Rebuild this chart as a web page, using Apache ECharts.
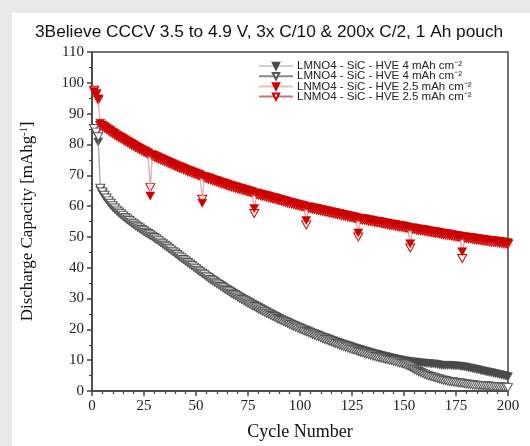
<!DOCTYPE html>
<html>
<head>
<meta charset="utf-8">
<script src="https://cdn.jsdelivr.net/npm/echarts@6/dist/echarts.min.js"></script>
<style>
  html, body { margin: 0; padding: 0; background: #e9e9e9; }
  #main { width: 530px; height: 446px; }
</style>
</head>
<body>
<div id="main"></div>
<script>
// cycle numbers 1..200
var cycles = [];
for (var c = 1; c <= 200; c++) cycles.push(c);

var xTicks = [0, 25, 50, 75, 100, 125, 150, 175, 200];
var yTicks = [0, 10, 20, 30, 40, 50, 60, 70, 80, 90, 100, 110];

// trailing spaces keep the legend entries apart, text stays the same
var seriesNames = [
  'LMNO4 - SiC - HVE 4 mAh cm⁻²',
  'LMNO4 - SiC - HVE 4 mAh cm⁻² ',
  'LNMO4 - SiC - HVE 2.5 mAh cm⁻²',
  'LNMO4 - SiC - HVE 2.5 mAh cm⁻² '
];

// LMNO4 4 mAh, filled
var gray4Filled = [
  85.0, 83.5, 80.8, 65.2, 64.0, 62.9, 62.0, 61.1, 60.3, 59.5,
  58.8, 58.2, 57.6, 57.0, 56.5, 55.9, 55.4, 54.9, 54.4, 53.9,
  53.4, 53.0, 52.5, 52.1, 51.6, 51.2, 50.8, 50.4, 50.0, 49.5,
  49.0, 48.6, 48.1, 47.6, 47.1, 46.6, 46.1, 45.6, 45.1, 44.6,
  44.1, 43.6, 43.1, 42.6, 42.1, 41.6, 41.1, 40.6, 40.1, 39.6,
  39.1, 38.6, 38.2, 37.7, 37.3, 36.8, 36.4, 35.9, 35.5, 35.0,
  34.6, 34.2, 33.8, 33.3, 32.9, 32.5, 32.1, 31.7, 31.3, 30.9,
  30.5, 30.1, 29.7, 29.4, 29.0, 28.6, 28.2, 27.9, 27.5, 27.2,
  26.8, 26.4, 26.0, 25.7, 25.3, 25.0, 24.6, 24.3, 23.9, 23.6,
  23.2, 22.9, 22.6, 22.3, 22.0, 21.7, 21.4, 21.1, 20.8, 20.5,
  20.2, 19.9, 19.7, 19.4, 19.1, 18.8, 18.6, 18.3, 18.0, 17.8,
  17.5, 17.3, 17.0, 16.8, 16.5, 16.3, 16.0, 15.8, 15.6, 15.3,
  15.1, 14.9, 14.7, 14.5, 14.2, 14.0, 13.8, 13.6, 13.4, 13.2,
  13.0, 12.8, 12.6, 12.4, 12.2, 12.0, 11.9, 11.7, 11.5, 11.3,
  11.2, 11.0, 10.8, 10.7, 10.5, 10.4, 10.2, 10.1, 9.9, 9.8,
  9.7, 9.6, 9.5, 9.4, 9.4, 9.3, 9.2, 9.1, 9.1, 9.0,
  8.9, 8.9, 8.8, 8.8, 8.7, 8.6, 8.4, 8.3, 8.3, 8.3,
  8.3, 8.3, 8.2, 8.2, 8.1, 8.1, 8.0, 7.9, 7.8, 7.7,
  7.5, 7.4, 7.2, 7.1, 6.9, 6.8, 6.6, 6.5, 6.3, 6.2,
  6.0, 5.9, 5.7, 5.6, 5.4, 5.3, 5.1, 5.0, 4.8, 4.6
];

// LMNO4 4 mAh, open
var gray4Open = [
  85.2, 84.0, 82.5, 65.8, 64.6, 63.5, 62.6, 61.7, 60.9, 60.1,
  59.4, 58.7, 58.1, 57.5, 56.9, 56.3, 55.8, 55.3, 54.8, 54.3,
  53.8, 53.3, 52.9, 52.4, 52.0, 51.5, 51.1, 50.7, 50.2, 49.8,
  49.3, 48.8, 48.3, 47.8, 47.3, 46.8, 46.3, 45.8, 45.3, 44.8,
  44.3, 43.7, 43.2, 42.7, 42.2, 41.7, 41.2, 40.7, 40.2, 39.7,
  39.2, 38.7, 38.2, 37.7, 37.2, 36.7, 36.2, 35.8, 35.3, 34.8,
  34.4, 33.9, 33.5, 33.0, 32.6, 32.2, 31.7, 31.3, 30.9, 30.5,
  30.1, 29.7, 29.3, 28.9, 28.5, 28.1, 27.7, 27.4, 27.0, 26.6,
  26.3, 25.9, 25.6, 25.2, 24.9, 24.5, 24.2, 23.9, 23.5, 23.2,
  22.9, 22.6, 22.3, 22.0, 21.6, 21.3, 21.0, 20.7, 20.4, 20.1,
  19.8, 19.5, 19.3, 19.0, 18.7, 18.4, 18.1, 17.8, 17.6, 17.3,
  17.0, 16.7, 16.5, 16.2, 16.0, 15.7, 15.4, 15.2, 14.9, 14.7,
  14.4, 14.2, 14.0, 13.7, 13.5, 13.3, 13.1, 12.8, 12.6, 12.4,
  12.2, 12.0, 11.8, 11.6, 11.4, 11.2, 11.0, 10.8, 10.7, 10.5,
  10.3, 10.2, 10.0, 9.9, 9.7, 9.5, 9.3, 9.1, 8.9, 8.7,
  8.4, 8.1, 7.8, 7.4, 7.0, 6.6, 6.3, 6.0, 5.7, 5.4,
  5.1, 4.9, 4.7, 4.5, 4.3, 4.1, 3.9, 3.7, 3.5, 3.4,
  3.2, 3.1, 3.0, 2.9, 2.8, 2.7, 2.6, 2.5, 2.4, 2.3,
  2.2, 2.1, 2.0, 1.9, 1.9, 1.8, 1.8, 1.7, 1.7, 1.6,
  1.6, 1.5, 1.5, 1.4, 1.4, 1.3, 1.3, 1.2, 1.2, 1.1
];

// LNMO4 2.5 mAh, filled (sits on the upper edge of the red band)
var red25Filled = [
  97.2, 96.2, 94.8, 86.9, 86.3, 85.8, 85.4, 84.9, 84.5, 84.0,
  83.6, 83.1, 82.7, 82.3, 81.9, 81.5, 81.1, 80.7, 80.3, 79.9,
  79.5, 79.1, 78.8, 78.4, 78.0, 77.7, 77.3, 63.3, 76.7, 76.4,
  76.1, 75.8, 75.5, 75.2, 74.9, 74.6, 74.3, 74.0, 73.7, 73.4,
  73.1, 72.8, 72.6, 72.3, 72.0, 71.7, 71.5, 71.2, 70.9, 70.7,
  70.4, 70.2, 60.9, 69.7, 69.4, 69.2, 69.0, 68.7, 68.5, 68.3,
  68.0, 67.8, 67.6, 67.4, 67.1, 66.9, 66.7, 66.5, 66.3, 66.1,
  65.9, 65.7, 65.5, 65.3, 65.1, 64.9, 64.7, 59.2, 64.3, 64.1,
  63.9, 63.7, 63.6, 63.4, 63.2, 63.0, 62.8, 62.7, 62.5, 62.3,
  62.1, 61.9, 61.7, 61.5, 61.3, 61.2, 61.0, 60.8, 60.6, 60.4,
  60.3, 60.1, 55.3, 59.8, 59.7, 59.5, 59.4, 59.2, 59.1, 58.9,
  58.8, 58.6, 58.5, 58.3, 58.2, 58.0, 57.9, 57.7, 57.6, 57.4,
  57.3, 57.1, 57.0, 56.8, 56.7, 56.5, 56.4, 51.3, 56.1, 56.0,
  55.9, 55.8, 55.6, 55.5, 55.4, 55.2, 55.1, 55.0, 54.9, 54.7,
  54.6, 54.5, 54.3, 54.2, 54.1, 54.0, 53.8, 53.7, 53.6, 53.5,
  53.3, 53.2, 47.8, 53.0, 52.9, 52.7, 52.6, 52.5, 52.4, 52.3,
  52.2, 52.0, 51.9, 51.8, 51.7, 51.6, 51.5, 51.3, 51.2, 51.1,
  51.0, 50.9, 50.8, 50.6, 50.5, 50.4, 50.3, 45.2, 50.1, 50.0,
  49.9, 49.8, 49.7, 49.6, 49.5, 49.4, 49.3, 49.2, 49.1, 49.0,
  48.9, 48.8, 48.8, 48.7, 48.6, 48.5, 48.4, 48.3, 48.2, 48.1
];

// LNMO4 2.5 mAh, open (lower edge of the red band)
var red25Open = [
  97.6, 96.5, 94.4, 86.2, 85.7, 85.3, 84.8, 84.4, 83.9, 83.5,
  83.0, 82.6, 82.2, 81.8, 81.4, 81.0, 80.6, 80.2, 79.8, 79.4,
  79.0, 78.6, 78.3, 77.9, 77.5, 77.2, 76.8, 66.0, 76.2, 75.9,
  75.6, 75.3, 75.0, 74.7, 74.4, 74.1, 73.8, 73.5, 73.2, 72.9,
  72.6, 72.3, 72.1, 71.8, 71.5, 71.2, 71.0, 70.7, 70.4, 70.2,
  69.9, 69.7, 62.2, 69.2, 68.9, 68.7, 68.5, 68.2, 68.0, 67.8,
  67.5, 67.3, 67.1, 66.9, 66.6, 66.4, 66.2, 66.0, 65.8, 65.6,
  65.4, 65.2, 65.0, 64.8, 64.6, 64.4, 64.2, 57.6, 63.8, 63.6,
  63.4, 63.2, 63.1, 62.9, 62.7, 62.5, 62.3, 62.2, 62.0, 61.8,
  61.6, 61.4, 61.2, 61.0, 60.8, 60.7, 60.5, 60.3, 60.1, 59.9,
  59.8, 59.6, 53.9, 59.3, 59.2, 59.0, 58.9, 58.7, 58.6, 58.4,
  58.3, 58.1, 58.0, 57.8, 57.7, 57.5, 57.4, 57.2, 57.1, 56.9,
  56.8, 56.6, 56.5, 56.3, 56.2, 56.0, 55.9, 50.0, 55.6, 55.5,
  55.4, 55.3, 55.1, 55.0, 54.9, 54.7, 54.6, 54.5, 54.4, 54.2,
  54.1, 54.0, 53.8, 53.7, 53.6, 53.5, 53.3, 53.2, 53.1, 53.0,
  52.8, 52.7, 46.4, 52.5, 52.4, 52.2, 52.1, 52.0, 51.9, 51.8,
  51.7, 51.5, 51.4, 51.3, 51.2, 51.1, 51.0, 50.8, 50.7, 50.6,
  50.5, 50.4, 50.3, 50.1, 50.0, 49.9, 49.8, 43.0, 49.6, 49.5,
  49.4, 49.3, 49.2, 49.1, 49.0, 48.9, 48.8, 48.7, 48.6, 48.5,
  48.4, 48.3, 48.3, 48.2, 48.1, 48.0, 47.9, 47.8, 47.7, 47.6
];

function pairs(vals) {
  var out = [];
  for (var i = 0; i < vals.length; i++) out.push([cycles[i], vals[i]]);
  return out;
}

function mkSeries(name, vals, color, hollow, lineColor, z) {
  return {
    name: name,
    type: 'line',
    data: pairs(vals),
    symbol: 'triangle',
    symbolRotate: 180,
    symbolSize: [9, 8],
    showAllSymbol: true,
    lineStyle: { color: lineColor, width: 0.8 },
    itemStyle: hollow
      ? { color: '#ffffff', borderColor: color, borderWidth: 1 }
      : { color: color, borderColor: color, borderWidth: 0.5 },
    emphasis: { disabled: true },
    z: z
  };
}

var serif = '"Liberation Serif", "DejaVu Serif", serif';
var sans = '"Liberation Sans", Arial, sans-serif';

var myChart = echarts.init(document.getElementById('main'), null, { renderer: 'canvas' });
var option = {
  animation: false,
  backgroundColor: '#e9e9e9',
  graphic: [{
    type: 'rect',
    shape: { x: 12, y: 13, width: 518, height: 433 },
    style: { fill: '#ffffff' },
    z: -10,
    silent: true
  }],
  title: {
    text: '3Believe CCCV 3.5 to 4.9 V, 3x C/10 & 200x C/2, 1 Ah pouch',
    left: 30,
    top: 19,
    textStyle: { fontFamily: sans, fontSize: 17.3, fontWeight: 'normal', color: '#111' }
  },
  legend: {
    orient: 'vertical',
    left: 253,
    top: 55,
    itemWidth: 34,
    itemHeight: 8,
    itemGap: -1.8,
    data: seriesNames.map(function (n) { return { name: n }; }),
    textStyle: { fontFamily: sans, fontSize: 11.5, color: '#222', lineHeight: 10.5, padding: [0, 0, 0, -1] }
  },
  grid: {
    left: 92, right: 22, top: 52, bottom: 55,
    show: true,
    borderColor: '#444',
    borderWidth: 1.5,
    backgroundColor: 'transparent'
  },
  xAxis: {
    type: 'value',
    min: 0,
    max: 200,
    interval: 25,
    name: 'Cycle Number',
    nameLocation: 'middle',
    nameGap: 32,
    nameTextStyle: { fontFamily: serif, fontSize: 18, color: '#111' },
    axisLine: { show: true, lineStyle: { color: '#444', width: 1.5 } },
    axisTick: { show: true, inside: false, length: 5, lineStyle: { color: '#444', width: 1.5 } },
    minorTick: { show: true, splitNumber: 5, length: 3, lineStyle: { color: '#444', width: 1.2 } },
    axisLabel: { fontFamily: serif, fontSize: 15, color: '#222', margin: 8,
      formatter: function (v) { return xTicks.indexOf(v) >= 0 ? String(v) : ''; } },
    splitLine: { show: false }
  },
  yAxis: {
    type: 'value',
    min: 0,
    max: 110,
    interval: 10,
    name: 'Discharge Capacity [mAhg{sup|-1}]',
    nameLocation: 'middle',
    nameGap: 55,
    nameTextStyle: {
      fontFamily: serif, fontSize: 17, color: '#111',
      rich: { sup: { fontFamily: serif, fontSize: 10, verticalAlign: 'top', color: '#111', padding: [0, 0, 8, 0] } }
    },
    axisLine: { show: true, lineStyle: { color: '#444', width: 1.5 } },
    axisTick: { show: true, inside: false, length: 5, lineStyle: { color: '#444', width: 1.5 } },
    minorTick: { show: true, splitNumber: 2, length: 3, lineStyle: { color: '#444', width: 1.2 } },
    axisLabel: { fontFamily: serif, fontSize: 15, color: '#222', margin: 8,
      formatter: function (v) { return yTicks.indexOf(v) >= 0 ? String(v) : ''; } },
    splitLine: { show: false }
  },
  series: [
    mkSeries(seriesNames[0], gray4Filled, '#4a4a4a', false, '#cfcfcf', 2),
    mkSeries(seriesNames[1], gray4Open, '#555555', true, '#8a8a8a', 3),
    mkSeries(seriesNames[2], red25Filled, '#cc0000', false, '#e0c4c4', 5),
    mkSeries(seriesNames[3], red25Open, '#d00000', true, '#c07878', 4)
  ]
};
myChart.setOption(option);
window.onresize = myChart.resize;
</script>
</body>
</html>
